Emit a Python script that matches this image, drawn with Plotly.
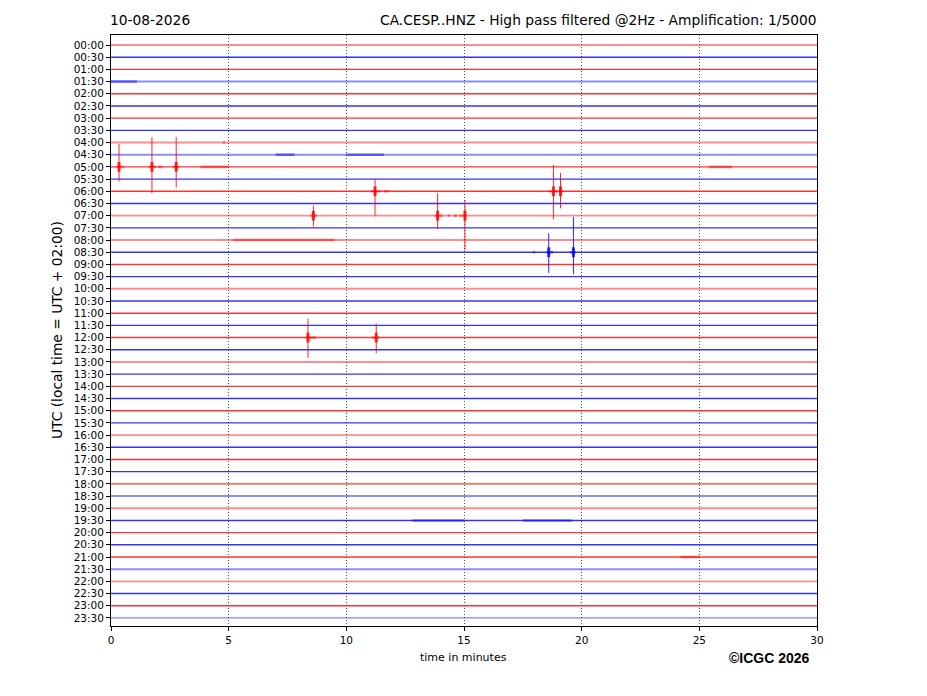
import plotly.graph_objects as go

# rows of the helicorder, one every 30 minutes
row_labels = [f"{h:02d}:{m:02d}" for h in range(24) for m in (0, 30)]

# rough background noise level per row (1 quiet, 2 normal, 3 noisy)
noise_level = [3, 2, 2, 3, 2, 2, 2, 2, 3, 3, 2, 2, 2, 2, 3, 2,
               3, 2, 2, 2, 3, 2, 2, 2, 2, 2, 3, 2, 2, 2, 2, 2,
               3, 2, 2, 2, 2, 3, 3, 2, 2, 2, 2, 3, 3, 2, 2, 1]

# seismic events: row index, minute, peak above / below the trace (in rows)
event_row = [10, 10, 10, 12, 12, 12, 14, 14, 14, 17, 17, 24, 24]
event_min = [0.34, 1.74, 2.77, 11.22, 18.80, 19.10, 8.60, 13.88, 15.04, 18.60, 19.65, 8.37, 11.27]
event_up = [1.90, 2.45, 2.45, 1.00, 2.15, 1.50, 0.85, 1.85, 1.30, 1.55, 2.90, 1.55, 1.15]
event_down = [1.20, 2.15, 1.70, 2.00, 2.30, 1.40, 0.90, 1.10, 2.85, 1.70, 1.80, 1.65, 1.30]

# bursts of stronger shaking (row, start minute, end minute)
burst_row = [10, 10, 10, 10, 10, 12, 12, 12, 12, 14, 14, 14, 14, 14,
             17, 17, 17, 24, 24, 9, 9, 3, 16, 39, 39, 42, 10, 8]
burst_start = [0.22, 1.60, 2.00, 2.62, 3.80, 11.05, 11.60, 18.60, 19.02, 8.48, 13.75, 14.30, 14.55, 14.80,
               17.92, 18.50, 19.50, 8.28, 11.10, 7.00, 10.00, 0.00, 5.20, 12.80, 17.50, 24.20, 25.40, 4.75]
burst_end = [0.55, 1.92, 2.20, 2.90, 5.00, 11.45, 11.80, 19.00, 19.22, 8.75, 14.10, 14.40, 14.70, 15.12,
             18.02, 18.80, 19.75, 8.72, 11.40, 7.80, 11.60, 1.10, 9.50, 15.00, 19.60, 25.00, 26.40, 4.85]

minute_ticks = [0, 5, 10, 15, 20, 25, 30]

RED = "255,0,0"
BLUE = "0,0,255"


def row_color(i, alpha):
    return f"rgba({RED if i % 2 == 0 else BLUE},{alpha})"


fig = go.Figure()

# baseline traces
for i, label in enumerate(row_labels):
    lvl = noise_level[i]
    width = {1: 1.2, 2: 1.4, 3: 1.9}[lvl]
    alpha = {1: 0.5, 2: 0.8, 3: 0.45}[lvl]
    fig.add_trace(go.Scatter(
        x=[0, 30], y=[i, i], mode="lines",
        line=dict(color=row_color(i, alpha), width=width),
        hoverinfo="skip", showlegend=False
    ))

# noisy bursts
for r, s, e in zip(burst_row, burst_start, burst_end):
    fig.add_trace(go.Scatter(
        x=[s, e], y=[r, r], mode="lines",
        line=dict(color=row_color(r, 0.45), width=2.6),
        hoverinfo="skip", showlegend=False
    ))

# event spikes
for r, t, up, down in zip(event_row, event_min, event_up, event_down):
    fig.add_trace(go.Scatter(
        x=[t, t], y=[r - up, r + down], mode="lines",
        line=dict(color=row_color(r, 0.85), width=1),
        hoverinfo="skip", showlegend=False
    ))
    fig.add_trace(go.Scatter(
        x=[t, t], y=[r - 0.4, r + 0.4], mode="lines",
        line=dict(color=row_color(r, 0.8), width=3),
        hoverinfo="skip", showlegend=False
    ))

axis_font = dict(family="DejaVu Sans", size=10.5, color="black")

fig.update_xaxes(
    range=[0, 30], tickvals=minute_ticks, ticks="outside", ticklen=4,
    tickcolor="black", showline=True, linecolor="black", linewidth=1, mirror=True,
    showgrid=True, gridcolor="#555555", gridwidth=1, griddash="1px,2px",
    zeroline=False, tickfont=axis_font, layer="above traces"
)
fig.update_yaxes(
    range=[47.66, -0.82], tickvals=list(range(len(row_labels))), ticktext=row_labels,
    ticks="outside", ticklen=4, tickcolor="black", showline=True, linecolor="black",
    linewidth=1, mirror=True, showgrid=False, zeroline=False, tickfont=axis_font
)

fig.update_layout(
    width=919, height=688,
    margin=dict(l=103, r=110, t=27, b=70),
    plot_bgcolor="white", paper_bgcolor="white",
    font=dict(family="DejaVu Sans", color="black"),
    annotations=[
        dict(text="10-08-2026", xref="paper", yref="paper", x=-0.0042, y=1.0254,
             xanchor="left", yanchor="middle", showarrow=False, font=dict(size=13.8)),
        dict(text="CA.CESP..HNZ - High pass filtered @2Hz - Amplification: 1/5000",
             xref="paper", yref="paper", x=1.0028, y=1.0254,
             xanchor="right", yanchor="middle", showarrow=False, font=dict(size=13.8)),
        dict(text="UTC (local time = UTC + 02:00)", xref="paper", yref="paper",
             x=-0.0765, y=0.5008, textangle=-90, xanchor="center", yanchor="middle",
             showarrow=False, font=dict(size=13.8)),
        dict(text="time in minutes", xref="paper", yref="paper", x=0.4986, y=-0.0525,
             xanchor="center", yanchor="middle", showarrow=False, font=dict(size=11)),
        dict(text="<b>©ICGC 2026</b>", xref="paper", yref="paper", x=0.933, y=-0.054,
             xanchor="center", yanchor="middle", showarrow=False,
             font=dict(family="Liberation Sans", size=14)),
    ]
)

fig.write_html("out.html")
